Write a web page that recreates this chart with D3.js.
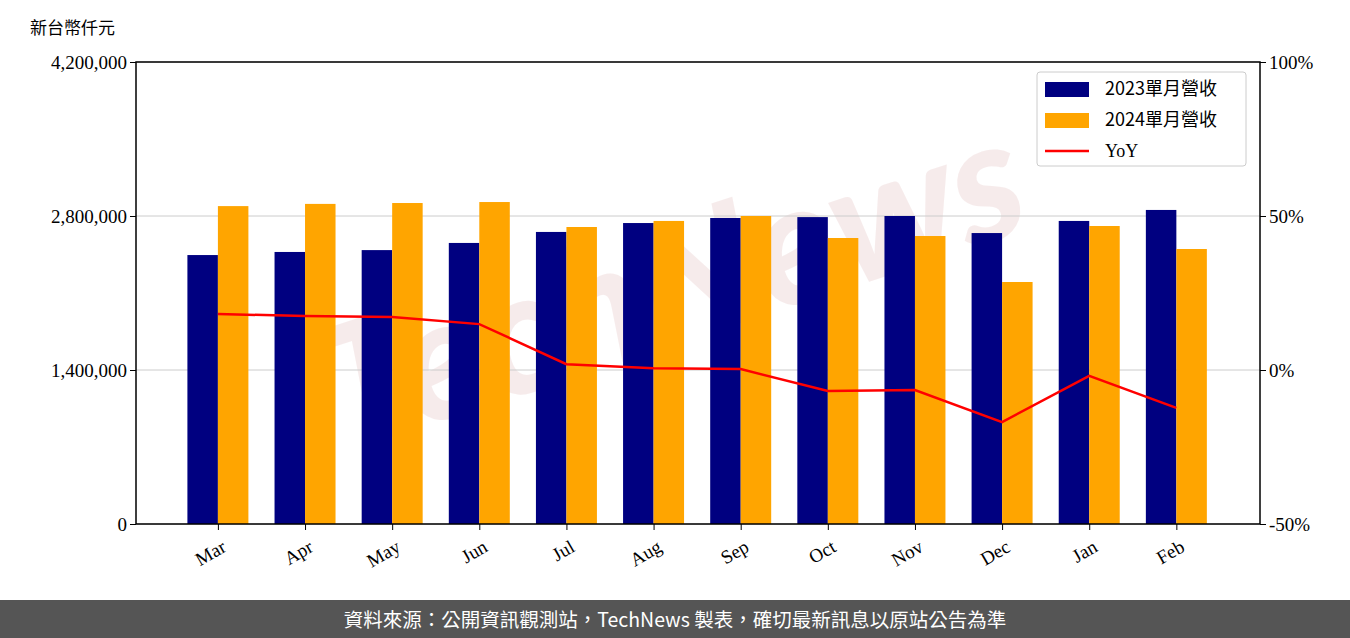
<!DOCTYPE html><html><head><meta charset="utf-8"><script src="https://cdn.jsdelivr.net/npm/d3@7"></script>
<style>body{margin:0;background:#fff}</style></head><body><svg id="c" width="1350" height="638"></svg>
<script>
const categories=["Mar","Apr","May","Jun","Jul","Aug","Sep","Oct","Nov","Dec","Jan","Feb"];
const rev2023=[2445000,2473000,2490000,2555000,2655000,2736000,2782000,2790000,2800000,2645000,2755000,2855000];
const rev2024=[2890000,2910000,2918000,2927000,2700000,2755000,2800000,2600000,2618000,2200000,2709000,2500000];
const yoy=[18.2,17.5,17.2,14.9,1.9,0.6,0.3,-6.8,-6.5,-16.9,-1.9,-12.3];
const leftTicks=[0,1400000,2800000,4200000];
const rightTicks=[-50,0,50,100];
const svg=d3.select("#c");
const L=136,R=1260,T=62,B=524;
const x=d3.scaleLinear().domain([-0.94,11.96]).range([L,R]);
const y=d3.scaleLinear().domain([0,4200000]).range([B,T]);
const y2=d3.scaleLinear().domain([-50,100]).range([B,T]);
const serif="'Liberation Serif','DejaVu Serif',serif", cjk="'Noto Sans CJK TC',sans-serif";
svg.append("text").attr("transform","translate(690,340) rotate(-18)").attr("text-anchor","middle")
 .attr("font-family","Lato,sans-serif").attr("font-weight","900").attr("font-style","italic").attr("font-size",170)
 .attr("fill","#e8c8c8").attr("opacity",0.35).text("TechNews");
svg.selectAll(".g").data(leftTicks).join("line").attr("x1",L).attr("x2",R).attr("y1",d=>y(d)).attr("y2",d=>y(d)).attr("stroke","#ccc").attr("stroke-width",1);
const bw=0.35;
svg.selectAll(".b1").data(rev2023).join("rect").attr("x",(d,i)=>x(i-bw)).attr("width",x(bw)-x(0)).attr("y",d=>y(d)).attr("height",d=>B-y(d)).attr("fill","#000080");
svg.selectAll(".b2").data(rev2024).join("rect").attr("x",(d,i)=>x(i)).attr("width",x(bw)-x(0)).attr("y",d=>y(d)).attr("height",d=>B-y(d)).attr("fill","#ffa500");
svg.append("path").datum(yoy).attr("d",d3.line().x((d,i)=>x(i)).y(d=>y2(d))).attr("fill","none").attr("stroke","red").attr("stroke-width",2.5);
svg.append("rect").attr("x",L).attr("y",T).attr("width",R-L).attr("height",B-T).attr("fill","none").attr("stroke","#000").attr("stroke-width",1.5);
const la=svg.append("g").attr("transform",`translate(${L},0)`).call(d3.axisLeft(y).tickValues(leftTicks).tickFormat(d3.format(",")).tickSizeOuter(0));
const ra=svg.append("g").attr("transform",`translate(${R},0)`).call(d3.axisRight(y2).tickValues(rightTicks).tickFormat(d=>d+"%").tickSizeOuter(0));
const xa=svg.append("g").attr("transform",`translate(0,${B})`).call(d3.axisBottom(x).tickValues(d3.range(12)).tickFormat(i=>categories[i]).tickSizeOuter(0));
[la,ra,xa].forEach(a=>{a.select(".domain").remove();a.selectAll("text").attr("font-family",serif).attr("font-size",19).attr("fill","#000");});
xa.selectAll("text").attr("text-anchor","end").attr("transform","translate(-4,4) rotate(-30)").attr("dy","0.9em");
svg.append("text").attr("x",30).attr("y",34).attr("font-family",cjk).attr("font-size",17).text("新台幣仟元");
const lg=svg.append("g").attr("transform","translate(1037,72)");
lg.append("rect").attr("width",209).attr("height",94).attr("rx",3).attr("fill","#fff").attr("fill-opacity",0.85).attr("stroke","#ccc");
const items=[["2023單月營收","#000080","r"],["2024單月營收","#ffa500","r"],["YoY","red","l"]];
items.forEach((it,i)=>{const cy=17+i*31;
 if(it[2]=="r")lg.append("rect").attr("x",8).attr("y",cy-7).attr("width",44).attr("height",15).attr("fill",it[1]);
 else lg.append("line").attr("x1",8).attr("x2",52).attr("y1",cy).attr("y2",cy).attr("stroke",it[1]).attr("stroke-width",2.5);
 lg.append("text").attr("x",68).attr("y",cy+6).attr("font-family",i<2?cjk:serif).attr("font-size",18).text(it[0]);});
svg.append("rect").attr("x",0).attr("y",600).attr("width",1350).attr("height",38).attr("fill","#555");
svg.append("text").attr("x",675).attr("y",627).attr("text-anchor","middle").attr("fill","#fff").attr("font-family",cjk).attr("font-size",19.5).text("資料來源：公開資訊觀測站，TechNews 製表，確切最新訊息以原站公告為準");
</script></body></html>
